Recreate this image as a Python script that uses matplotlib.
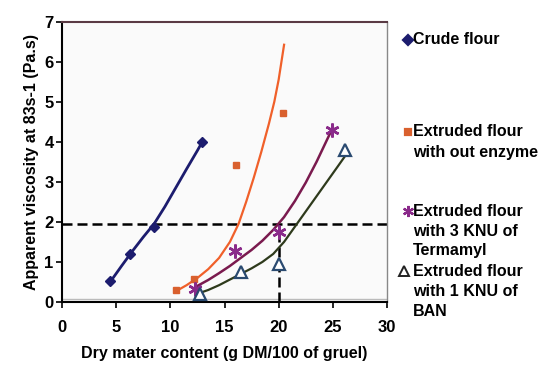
import matplotlib
matplotlib.use("Agg")
import matplotlib.pyplot as plt
from matplotlib.lines import Line2D

plt.rcParams["font.family"] = ["Liberation Sans", "DejaVu Sans"]
plt.rcParams["font.weight"] = "bold"
plt.rcParams["axes.labelweight"] = "bold"

# measured points
crude_x = [4.47, 6.32, 8.48, 12.96]
crude_y = [0.52, 1.21, 1.875, 4.0]
extr_x = [10.5, 12.2, 16.05, 20.4]
extr_y = [0.29, 0.58, 3.42, 4.71]
term_x = [12.3, 16.0, 20.05, 24.9]
term_y = [0.33, 1.28, 1.75, 4.29]
ban_x = [12.7, 16.5, 20.05, 26.1]
ban_y = [0.21, 0.75, 0.96, 3.79]

# trend lines
crude_fit_x = [4.5, 5.5, 6.5, 7.5, 8.5, 9.5, 10.5, 11.5, 12.5, 13.0]
crude_fit_y = [0.52, 0.9, 1.27, 1.62, 1.95, 2.38, 2.85, 3.32, 3.78, 4.02]
extr_fit_x = [10.4, 11.5, 12.5, 13.5, 14.5, 15.5, 16.3, 17.0, 17.7, 18.4,
              19.1, 19.6, 20.0, 20.5]
extr_fit_y = [0.25, 0.42, 0.6, 0.82, 1.1, 1.5, 1.95, 2.5, 3.1, 3.75,
              4.45, 5.0, 5.55, 6.42]
term_fit_x = [12.35, 13.5, 14.5, 15.5, 16.5, 17.5, 18.5, 19.5, 20.5, 21.5,
              22.5, 23.5, 24.5, 25.0]
term_fit_y = [0.38, 0.55, 0.72, 0.9, 1.1, 1.3, 1.53, 1.8, 2.12, 2.52,
              2.98, 3.5, 4.07, 4.35]
ban_fit_x = [12.65, 13.5, 14.5, 15.5, 16.5, 17.5, 18.5, 19.5, 20.5, 21.5,
             22.5, 23.5, 24.5, 25.5, 26.1]
ban_fit_y = [0.22, 0.3, 0.42, 0.56, 0.7, 0.84, 1.0, 1.2, 1.5, 1.88,
             2.26, 2.64, 3.02, 3.4, 3.63]

target_visc = 1.94
target_dm = 20

legend_rows = [
    ("D", "#1c1c6e", 40, ["Crude flour"]),
    ("s", "#d9602e", 132, ["Extruded flour", "with out enzyme"]),
    ((6, 2, 0), "#8a2a8a", 211, ["Extruded flour", "with 3 KNU of", "Termamyl"]),
    ("^", "#222222", 271, ["Extruded flour", "with 1 KNU of", "BAN"]),
]

W, H = 542, 373
fig = plt.figure(figsize=(W / 100, H / 100), dpi=100)
ax = fig.add_axes([62 / W, 1 - 302 / H, (387 - 62) / W, (302 - 21.5) / H])
ax.set_facecolor("#fafafa")

ax.axhline(0.07, color="#bbbbbb", lw=1, zorder=1)
ax.plot([0, 30], [target_visc, target_visc], color="black", lw=1.8,
        dashes=(4, 2), zorder=2)
ax.plot([target_dm, target_dm], [0, target_visc], color="black", lw=1.8,
        dashes=(4, 2), zorder=2)

ax.plot(crude_fit_x, crude_fit_y, color="#1c1c6e", lw=2, zorder=3)
ax.plot(extr_fit_x, extr_fit_y, color="#f0602a", lw=1.6, zorder=3)
ax.plot(term_fit_x, term_fit_y, color="#7a1a4e", lw=1.8, zorder=3)
ax.plot(ban_fit_x, ban_fit_y, color="#2e3a1c", lw=1.6, zorder=3)

ax.plot(crude_x, crude_y, "D", color="#1c1c6e", ms=5, zorder=4)
ax.plot(extr_x, extr_y, "s", color="#d9602e", ms=5, zorder=4)
ax.plot(term_x, term_y, marker=(6, 2, 0), ls="none", color="#8a2a8a",
        ms=10, mew=1.8, zorder=4)
ax.plot(ban_x, ban_y, "^", mfc="white", mec="#2a4a70", ms=8, mew=1.6,
        ls="none", zorder=4)

ax.set_xlim(0, 30)
ax.set_ylim(0, 7)
ax.set_xticks(range(0, 31, 5))
ax.set_yticks(range(0, 8))
ax.tick_params(axis="x", direction="out", length=4, width=1.2, pad=9,
               labelsize=12)
ax.tick_params(axis="y", direction="out", length=4, width=1.2, pad=2,
               labelsize=12)
for s in ("left", "bottom"):
    ax.spines[s].set_linewidth(1.5)
    ax.spines[s].set_color("black")
ax.spines["top"].set_color("#5a3a44")
ax.spines["top"].set_linewidth(1.5)
ax.spines["right"].set_color("#888888")
ax.spines["right"].set_linewidth(1.0)

ax.set_xlabel("Dry mater content (g DM/100 of gruel)", fontsize=11.5,
              labelpad=8)
ax.set_ylabel("Apparent viscosity at 83s-1 (Pa.s)", fontsize=11.5,
              labelpad=4)

# legend drawn by hand, one line per row
for marker, color, py, lines in legend_rows:
    mx = 404 if marker == "^" else 408
    kw = dict(mfc="white", mec=color, mew=1.4, ms=7) if marker == "^" else \
        dict(color=color, ms=5 if marker != (6, 2, 0) else 8, mew=1.6)
    fig.add_artist(Line2D([mx / W], [1 - py / H], marker=marker, ls="none",
                          transform=fig.transFigure, **kw))
    for i, txt in enumerate(lines):
        fig.text(413 / W, 1 - (py + 20 * i) / H, txt, fontsize=11.5,
                 va="center", ha="left")

fig.savefig("out.png", dpi=100)
